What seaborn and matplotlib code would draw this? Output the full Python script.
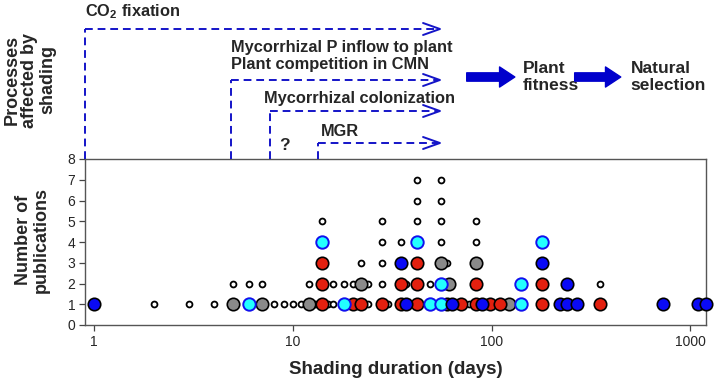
import matplotlib
matplotlib.use("Agg")
import matplotlib.pyplot as plt
import matplotlib.ticker as mticker
import seaborn as sns
import pandas as pd

# ---------------- data ----------------
# every marker is one publication: shading duration (days) and its stacked count
open_days = [2, 3, 4, 5, 6, 7, 8, 9, 10, 11, 12, 13, 14, 15, 16, 16, 18, 20, 22, 24, 24,
             28, 28, 28, 28, 30, 35, 37, 42, 42, 42, 49, 56, 56, 56, 56, 60, 77, 84, 84, 350]
open_count = [1, 1, 1, 2, 2, 2, 1, 1, 1, 1, 2, 1, 5, 1, 1, 2, 2, 2, 3, 1, 2,
              2, 3, 4, 5, 1, 4, 2, 5, 6, 7, 2, 4, 5, 6, 7, 3, 1, 4, 5, 2]
red_days = [14, 14, 14, 20, 22, 28, 35, 35, 42, 42, 42, 60, 70, 84, 84, 98, 110, 180, 180, 350]
red_count = [1, 2, 3, 1, 1, 1, 1, 2, 1, 2, 3, 1, 1, 1, 2, 1, 1, 1, 2, 1]
blue_days = [1, 35, 37, 63, 90, 180, 220, 240, 240, 270, 730, 1100, 1200]
blue_count = [1, 3, 1, 1, 1, 3, 1, 1, 2, 1, 1, 1, 1]
cyan_days = [6, 14, 18, 42, 49, 56, 56, 140, 140, 180]
cyan_count = [1, 4, 1, 4, 1, 1, 2, 1, 2, 4]
gray_days = [5, 7, 12, 22, 56, 61, 84, 122]
gray_count = [1, 1, 1, 2, 3, 2, 3, 1]

x_ticks = [1, 10, 100, 1000]
x_tick_labels = ["1", "10", "100", "1000"]
y_ticks = list(range(0, 9))

# process diagram (top panel)
process_labels = ["CO$_\\mathbf{2}$ fixation",
                  "Mycorrhizal P inflow to plant\nPlant competition in CMN",
                  "Mycorrhizal colonization",
                  "MGR"]
process_start_days = [0.9, 4.9, 7.7, 13.4]
process_end_days = 55
outcome_labels = ["Plant\nfitness", "Natural\nselection"]

# ---------------- style ----------------
sns.set_style("white")
plt.rcParams["font.family"] = ["Liberation Sans", "DejaVu Sans"]
plt.rcParams["mathtext.fontset"] = "custom"
plt.rcParams["mathtext.rm"] = "Liberation Sans"
plt.rcParams["mathtext.bf"] = "Liberation Sans:bold"

W, H = 714, 383
fig = plt.figure(figsize=(W / 100, H / 100), dpi=100)

ax_l, ax_r, ax_t, ax_b = 85, 706, 159, 325
ax = fig.add_axes([ax_l / W, 1 - ax_b / H, (ax_r - ax_l) / W, (ax_b - ax_t) / H])
ax_top = fig.add_axes([ax_l / W, 1 - ax_t / H, (ax_r - ax_l) / W, ax_t / H], sharex=ax)

XMIN, XMAX = 0.9, 1200

def frame(d, c, cat):
    return pd.DataFrame({"days": d, "count": c, "cat": cat})

df = pd.concat([frame(open_days, open_count, "open"),
                frame(red_days, red_count, "red"),
                frame(blue_days, blue_count, "blue"),
                frame(cyan_days, cyan_count, "cyan"),
                frame(gray_days, gray_count, "gray")], ignore_index=True)

styles = {
    "open": dict(color="white", edgecolor="black", s=18, linewidth=1.3, zorder=3),
    "gray": dict(color="#8a8a8a", edgecolor="black", s=80, linewidth=1.2, zorder=4),
    "red": dict(color="#e3200f", edgecolor="black", s=80, linewidth=1.2, zorder=4),
    "cyan": dict(color="#22ffff", edgecolor="#1010ee", s=80, linewidth=1.4, zorder=4),
    "blue": dict(color="#0a0af5", edgecolor="black", s=80, linewidth=1.2, zorder=4),
}
for cat, st in styles.items():
    sub = df[df["cat"] == cat]
    sns.scatterplot(data=sub, x="days", y="count", ax=ax, legend=False,
                    clip_on=False, **st)

ax.set_xscale("log")
ax.set_xlim(XMIN, XMAX)
ax.set_ylim(0, 8)
ax.set_xticks(x_ticks)
ax.set_xticklabels(x_tick_labels)
ax.xaxis.set_minor_locator(mticker.NullLocator())
ax.set_yticks(y_ticks)
ax.tick_params(axis="both", labelsize=10, length=4, width=0.9, color="#444444",
               direction="out", pad=3, bottom=True, left=True)
for sp in ax.spines.values():
    sp.set_color("#555555")
    sp.set_linewidth(1.0)
ax.set_xlabel("Shading duration (days)", fontsize=13.5, fontweight="bold", labelpad=9)
ax.set_ylabel("")
fig.text(32 / W, 1 - 240 / H, "Number of\npublications", rotation=90, ha="center",
         va="center", fontsize=13, fontweight="bold", linespacing=1.05)

# ---------------- top process panel ----------------
ax_top.set_ylim(ax_t, 0)  # pixel-like units measured from the top
ax_top.axis("off")
LINE_C = "#1414c8"
line_y = [29, 80, 111, 143]
label_pos = [(0.9, 12), (4.9, 56), (7.2, 98), (13.9, 131)]
head_dx = 0.085  # arrowhead length in log10 units
for lab, x0, y, (tx, ty) in zip(process_labels, process_start_days, line_y, label_pos):
    ax_top.plot([x0, x0], [ax_t, y], color=LINE_C, lw=1.4, ls=(0, (4, 2.5)),
                clip_on=False, solid_capstyle="butt")
    ax_top.plot([x0, process_end_days], [y, y], color=LINE_C, lw=1.4, ls=(0, (4, 2.5)),
                clip_on=False)
    xb = process_end_days / 10 ** head_dx
    ax_top.plot([xb, process_end_days, xb], [y - 6, y, y + 6], color=LINE_C, lw=1.4,
                clip_on=False)
    ax_top.text(tx, ty, lab, ha="left", va="center", fontsize=11.8, fontweight="bold",
                linespacing=1.15)
ax_top.text(8.55, 146, "?", ha="left", va="center", fontsize=12.5, fontweight="bold")

ARROW_C = "#0000cc"
arrow_style = "simple,head_length=1.1,head_width=1.45,tail_width=0.6"
for (xs, xe), lab, lx in zip([(75, 131), (262, 447)], outcome_labels, [143, 500]):
    ax_top.annotate("", xy=(xe, 77), xytext=(xs, 77),
                    arrowprops=dict(arrowstyle=arrow_style, color=ARROW_C,
                                    mutation_scale=10, shrinkA=0, shrinkB=0,
                                    joinstyle="round", capstyle="round"))
    ax_top.text(lx, 77, lab, ha="left", va="center", fontsize=12.5, fontweight="bold",
                linespacing=1.15)

fig.text(30 / W, 1 - 80 / H, "Processes\naffected by\nshading", rotation=90,
         ha="center", va="center", fontsize=13, fontweight="bold", linespacing=1.05)

fig.savefig("out.png", dpi=100)
